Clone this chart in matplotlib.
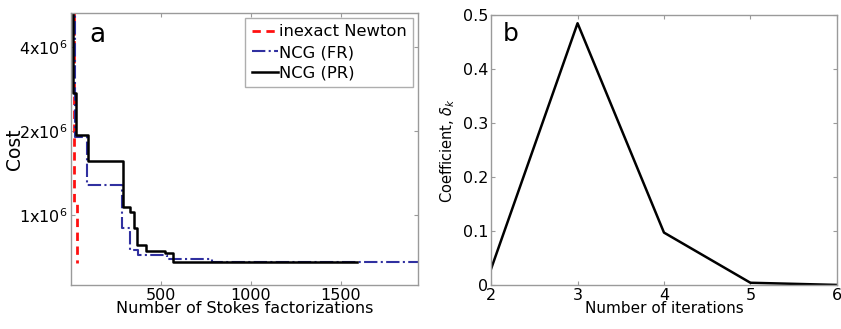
import matplotlib
matplotlib.use("Agg")
import matplotlib.pyplot as plt
from matplotlib.ticker import FixedLocator, FixedFormatter, NullLocator

plt.rcParams['font.family'] = ['DejaVu Sans']

# cost history vs number of Stokes factorizations (step curves)
newton_x = [0, 18, 35]
newton_cost = [8e6, 1.10e6, 0.675e6]

fr_x = [0, 24, 89, 283, 329, 374, 533, 783, 1929]
fr_cost = [8e6, 1.909e6, 1.275e6, 0.896e6, 0.746e6, 0.716e6, 0.694e6, 0.678e6, 0.678e6]

pr_x = [0, 12, 30, 98, 289, 329, 351, 370, 418, 524, 570, 1590]
pr_cost = [8e6, 2.73e6, 1.935e6, 1.562e6, 1.071e6, 1.028e6, 0.901e6, 0.781e6,
           0.743e6, 0.729e6, 0.680e6, 0.680e6]

# coefficient per iteration
iters = [2, 3, 4, 5, 6]
coeff = [0.03, 0.485, 0.097, 0.004, 0.0]

cost_ticks = [1e6, 2e6, 4e6]
cost_labels = [r'1x10$^6$', r'2x10$^6$', r'4x10$^6$']

fig = plt.figure(figsize=(8.41, 3.29), dpi=100)
ax1 = fig.add_axes([0.084, 0.134, 0.413, 0.827])
ax2 = fig.add_axes([0.584, 0.134, 0.411, 0.820])

def matlab_box(ax):
    for s in ax.spines.values():
        s.set_color('#9a9a9a')
        s.set_linewidth(1.0)
    ax.tick_params(direction='in', top=True, right=True, length=3,
                   color='#9a9a9a', labelsize=11.5, pad=2)

# panel a
ax1.step(newton_x, newton_cost, where='post', color='#ff1010', ls=(0, (3, 2)),
         lw=2.0, label='inexact Newton')
ax1.step(fr_x, fr_cost, where='post', color='#3030a0', ls='-.', lw=1.5,
         label='NCG (FR)')
ax1.step(pr_x, pr_cost, where='post', color='black', lw=1.8, label='NCG (PR)')
ax1.set_yscale('log')
ax1.set_xlim(0, 1929)
ax1.set_ylim(5.61e5, 5.3e6)
ax1.yaxis.set_major_locator(FixedLocator(cost_ticks))
ax1.yaxis.set_major_formatter(FixedFormatter(cost_labels))
ax1.yaxis.set_minor_locator(NullLocator())
ax1.set_xticks([500, 1000, 1500])
matlab_box(ax1)
ax1.set_xlabel('Number of Stokes factorizations', fontsize=11.5, labelpad=-1)
ax1.set_ylabel('Cost', fontsize=13.5, labelpad=-3)
ax1.text(0.055, 0.965, 'a', transform=ax1.transAxes, fontsize=19,
         va='top', ha='left')
leg = ax1.legend(loc='upper right', fontsize=11.8, frameon=True, fancybox=False,
                 handlelength=1.6, handletextpad=0.05, borderpad=0.4,
                 labelspacing=0.35, borderaxespad=0.3)
leg.get_frame().set_edgecolor('#9a9a9a')
leg.get_frame().set_linewidth(1.0)

# panel b
ax2.plot(iters, coeff, color='black', lw=1.8)
ax2.set_xlim(2, 6)
ax2.set_ylim(0, 0.5)
ax2.set_xticks(iters)
ax2.set_yticks([0, 0.1, 0.2, 0.3, 0.4, 0.5])
ax2.set_yticklabels(['0', '0.1', '0.2', '0.3', '0.4', '0.5'])
matlab_box(ax2)
ax2.set_xlabel('Number of iterations', fontsize=11, labelpad=-1)
ax2.set_ylabel(r'Coefficient, $\delta_k$', fontsize=10.5, labelpad=4)
ax2.text(0.035, 0.975, 'b', transform=ax2.transAxes, fontsize=18,
         va='top', ha='left')

fig.savefig('out.png', dpi=100)
